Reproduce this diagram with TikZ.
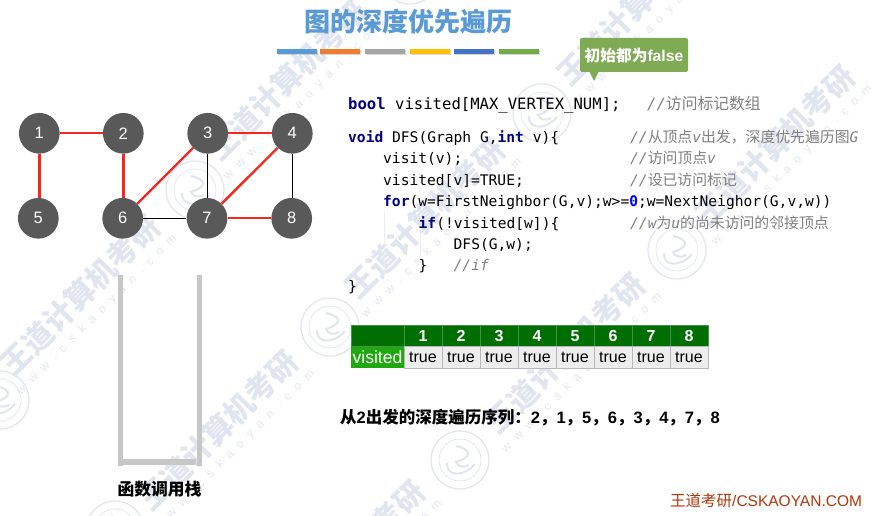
\documentclass[tikz,border=0pt]{standalone}
\usepackage{fontspec}
\setmainfont{Liberation Sans}
\setmonofont{DejaVu Sans Mono}
\newfontfamily\cjk{Noto Sans CJK SC}
\definecolor{vtx}{HTML}{595959}
\definecolor{redge}{HTML}{F5281E}
\definecolor{kw}{HTML}{000080}
\definecolor{cmt}{HTML}{808080}
\definecolor{dgreen}{HTML}{006E00}
\definecolor{lgreen}{HTML}{1FA80F}
\definecolor{cellg}{HTML}{EDEDED}
\definecolor{titleblue}{HTML}{5B9BD5}
\definecolor{callg}{HTML}{7FAB55}
\definecolor{foot}{HTML}{B0360C}
\definecolor{wmc}{HTML}{E1E5F0}
\definecolor{wmu}{HTML}{E4E7F0}
\definecolor{barA}{HTML}{5B9BD5}
\definecolor{barB}{HTML}{ED7D31}
\definecolor{barC}{HTML}{A5A5A5}
\definecolor{barD}{HTML}{FFC000}
\definecolor{barE}{HTML}{4472C4}
\definecolor{barF}{HTML}{70AD47}
\usetikzlibrary{shadows}
\newcommand{\zh}[1]{{\cjk\upshape\fontsize{14.85}{15}\selectfont #1}}
\tikzset{
 vertex/.style={circle,fill=vtx,minimum size=40.7pt,inner sep=0pt,text=white,font=\fontsize{16.5}{16.5}\selectfont},
 tree/.style={redge,line width=2.4pt},
 plain/.style={black,line width=1.2pt},
 code/.style={anchor=base west,inner sep=0pt,font=\ttfamily\fontsize{14.6}{15}\selectfont},
 codebig/.style={anchor=base west,inner sep=0pt,font=\ttfamily\fontsize{15.6}{16}\selectfont},
 note/.style={anchor=base west,inner sep=0pt,text=cmt,font=\ttfamily\itshape\fontsize{14.6}{15}\selectfont},
 guide/.style={black!7,line width=.6pt},
 bar/.style={minimum width=40pt,minimum height=4.6pt,inner sep=0pt,drop shadow={shadow xshift=0.6pt,shadow yshift=-1pt,opacity=.3}},
 hcell/.style={draw=black!35!green!45!gray,fill=dgreen,line width=.9pt,minimum width=38pt,minimum height=21.5pt,inner sep=0pt,text=white,font=\bfseries\fontsize{16}{16}\selectfont},
 vcell/.style={draw=black!28,fill=cellg,line width=.9pt,minimum width=38pt,minimum height=21.5pt,inner sep=0pt,font=\fontsize{16}{16}\selectfont},
 wall/.style={black!22,line width=5pt},
 wmtext/.style={rotate=45,text=wmc,font=\cjk\bfseries\fontsize{30}{30}\selectfont,inner sep=0pt},
 wmurl/.style={rotate=45,text=wmu,font=\addfontfeature{LetterSpace=64}\fontsize{12}{12}\selectfont,inner sep=0pt},
 wmring/.style={draw=wmc,line width=1.2pt,circle,minimum size=58pt,inner sep=0pt},
 wmin/.style={draw=wmc,line width=2pt}
}
\begin{document}
\begin{tikzpicture}[x=1pt,y=-1pt]
\useasboundingbox (0,0) rectangle (879,516);
\fill[white] (0,0) rectangle (879,516);
\begin{scope}
\clip (0,0) rectangle (879,516);
\foreach \i/\cx/\cy in {a/0/400,b/115/530,c/195/190,d/330/327,e/460/460,f/410/-25,g/542/113,h/677/250}{
 \node[wmring] (ring\i) at (\cx,\cy) {};
 \draw[wmin] (\cx-13,\cy+3) .. controls (\cx-14,\cy+16) and (\cx+3,\cy+18) .. (\cx+15,\cy+4);
 \draw[wmin] (\cx-4,\cy-14) .. controls (\cx+14,\cy-10) and (\cx+10,\cy-2) .. (\cx-4,\cy+2) .. controls (\cx-2,\cy+7) and (\cx+4,\cy+8) .. (\cx+9,\cy+5);
 \draw[wmin,line width=.7pt] (\cx,\cy) circle (21);
}
\foreach \i/\cx/\cy in {a/80/295,b/218/430,c/287/80,d/425/218,e/565/353,f/637/5,g/775/145,h/345/560}{
 \node[wmtext] (mark\i) at (\cx,\cy) {王道计算机考研};
 \node[wmurl] (url\i) at (\cx+17,\cy+20) {www.cskaoyan.com};
}
\end{scope}
% title
\node[inner sep=0pt,text=titleblue,font=\cjk\bfseries\fontsize{26}{26}\selectfont] (title) at (408,22) {图的深度优先遍历};
\foreach \n/\x in {A/297,B/340.3,C/385,D/430,E/474,F/519}{
 \node[bar,fill=bar\n] (bar\n) at (\x,51.5) {};
}
% callout
\node[fill=callg,rounded corners=2pt,minimum width=108pt,minimum height=34pt,inner sep=0pt,text=white,font=\bfseries\fontsize{15.7}{16}\selectfont] (call) at (634,55) {{\cjk 初始都为}false};
\coordinate (tipa) at (589,71); \coordinate (tipb) at (599,71); \coordinate (tipc) at (594,81);
\fill[callg] (tipa) -- (tipb) -- (tipc) -- cycle;
% graph
\node[vertex] (v1) at (39.3,133.3) {1};
\node[vertex] (v2) at (123.3,133.3) {2};
\node[vertex] (v3) at (207.7,133.3) {3};
\node[vertex] (v4) at (292.3,133.3) {4};
\node[vertex] (v5) at (38.3,218.3) {5};
\node[vertex] (v6) at (122.7,218.3) {6};
\node[vertex] (v7) at (207,218.3) {7};
\node[vertex] (v8) at (291.7,218.3) {8};
\draw[plain] (v3.south) -- (v3.south |- v7.north);
\draw[plain] (v4.south) -- (v4.south |- v8.north);
\draw[plain] (v6) -- (v7);
\draw[tree] (v1) -- (v2);
\draw[tree] (v1.south) -- (v1.south |- v5.north);
\draw[tree] (v2.south) -- (v2.south |- v6.north);
\draw[tree] (v3) -- (v4);
\draw[tree] (v3) -- (v6);
\draw[tree] (v4) -- (v7);
\draw[tree] (v7) -- (v8);
% stack
\coordinate (sa) at (120,275); \coordinate (sb) at (120,466);
\coordinate (sc) at (199,275); \coordinate (sd) at (199,466);
\coordinate (se) at (120,462); \coordinate (sf) at (196,462);
\draw[wall] (sa) -- (sb);
\draw[wall] (sc) -- (sd);
\draw[wall,line width=6pt] (se) -- (sf);
\node[inner sep=0pt,font=\cjk\bfseries\fontsize{16.8}{17}\selectfont] (stacklabel) at (159.5,489) {函数调用栈};
% code guides
\coordinate (ga) at (384,212); \coordinate (gb) at (384,275);
\coordinate (gc) at (420,234); \coordinate (gd) at (420,255);
\draw[guide] (ga) -- (gb);
\draw[guide] (gc) -- (gd);
% code
\node[codebig] (c1) at (348,110) {\textbf{\textcolor{kw}{bool}} visited[MAX\_VERTEX\_NUM];};
\node[note,font=\ttfamily\itshape\fontsize{15.6}{16}\selectfont] (n1) at (647,110) {//{\cjk\upshape\fontsize{15.8}{16}\selectfont 访问标记数组}};
\node[code] (c2) at (348,143) {\textbf{\textcolor{kw}{void}} DFS(Graph G,\textbf{\textcolor{kw}{int}} v)\{};
\node[note] (n2) at (630,143) {//\zh{从顶点}v\zh{出发，深度优先遍历图}G};
\node[code] (c3) at (383,164) {visit(v);};
\node[note] (n3) at (630,164) {//\zh{访问顶点}v};
\node[code] (c4) at (383,185.7) {visited[v]=TRUE;};
\node[note] (n4) at (630,185.7) {//\zh{设已访问标记}};
\node[code] (c5) at (383,207) {\textbf{\textcolor{kw}{for}}(w=FirstNeighbor(G,v);w>=\textbf{\textcolor{blue}{0}};w=NextNeighor(G,v,w))};
\node[code] (c6) at (418.5,228.5) {\textbf{\textcolor{kw}{if}}(!visited[w])\{};
\node[note] (n6) at (630,228.5) {//w\zh{为}u\zh{的尚未访问的邻接顶点}};
\node[code] (c7) at (453.5,249.5) {DFS(G,w);};
\node[code] (c8) at (418.5,270.5) {\}};
\node[note] (n8) at (453.5,270.5) {//if};
\node[code] (c9) at (348,291.5) {\}};
% table
\node[hcell,minimum width=53pt] (h0) at (377.5,336) {};
\foreach \i in {1,...,8}{
 \node[hcell] (h\i) at ({385+38*\i},336) {\i};
 \node[vcell] (t\i) at ({385+38*\i},357.5) {true};
}
\node[fill=lgreen,minimum width=53pt,minimum height=21.5pt,inner sep=0pt,text=white,font=\fontsize{17.6}{18}\selectfont] (vis) at (377.5,357.5) {visited};
% sequence
\node[anchor=base west,inner sep=0pt,font=\bfseries\fontsize{16.5}{17}\selectfont] (seq) at (340,423) {{\cjk 从}2{\cjk 出发的深度遍历序列：}2{\cjk ，}1{\cjk ，}5{\cjk ，}6{\cjk ，}3{\cjk ，}4{\cjk ，}7{\cjk ，}8};
% footer
\node[anchor=base west,inner sep=0pt,text=foot,font=\fontsize{15.5}{15.5}\selectfont] (foot) at (670,506) {{\cjk 王道考研}/CSKAOYAN.COM};
\end{tikzpicture}
\end{document}
